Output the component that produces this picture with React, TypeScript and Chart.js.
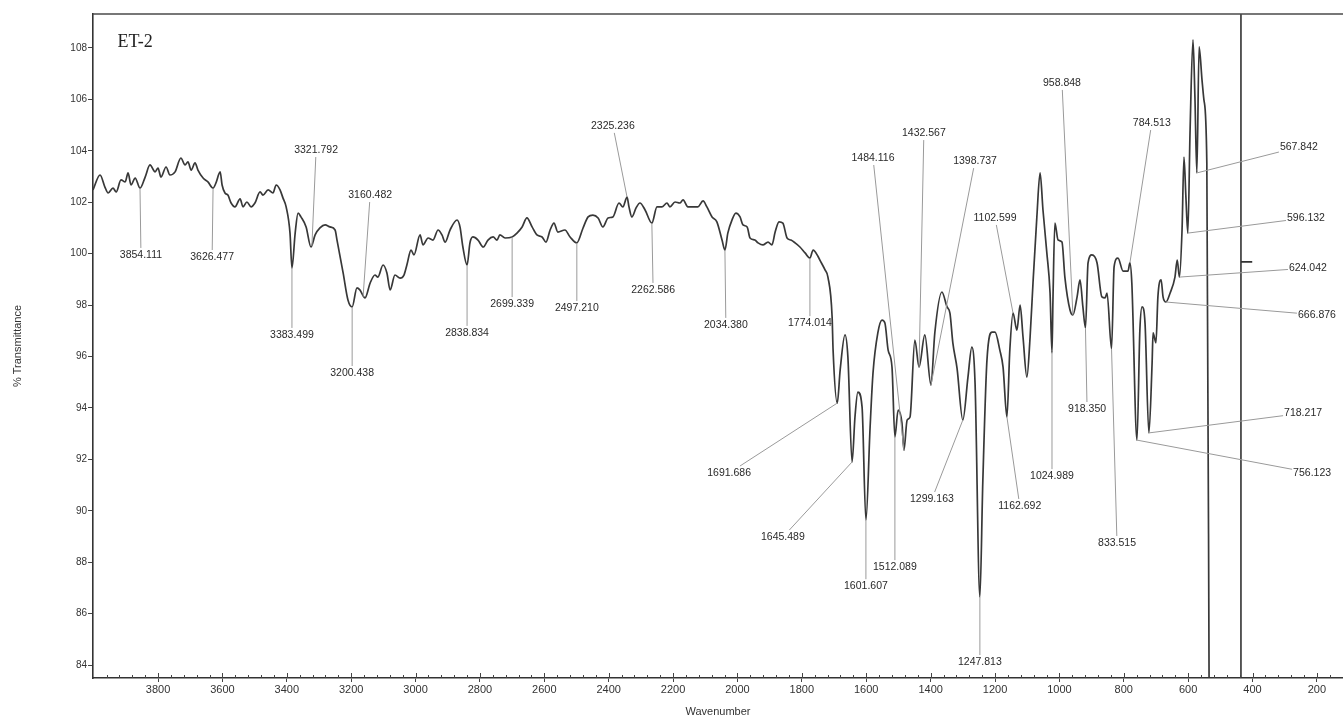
import React, { useEffect, useRef } from 'react';
import { Chart, registerables } from 'chart.js';

Chart.register(...registerables);

const FONT = '"Liberation Sans", Arial, Helvetica, sans-serif';

// Spectrum: wavenumber (cm-1) and % transmittance
const wavenumbers = [
  4002, 3980, 3965, 3955, 3940, 3930, 3915, 3902, 3893, 3884,
  3871, 3856, 3840, 3825, 3809, 3800, 3791, 3775, 3763, 3747,
  3729, 3716, 3707, 3697, 3685, 3676, 3660, 3645, 3629, 3620,
  3607, 3601, 3592, 3583, 3573, 3561, 3545, 3536, 3524, 3511,
  3499, 3483, 3474, 3458, 3443, 3433, 3421, 3412, 3402, 3390,
  3384, 3374, 3365, 3356, 3340, 3325, 3312, 3297, 3281, 3266,
  3250, 3244, 3225, 3210, 3197, 3182, 3173, 3157, 3141, 3126,
  3117, 3101, 3089, 3079, 3064, 3048, 3036, 3027, 3014, 3005,
  2986, 2977, 2961, 2946, 2930, 2918, 2908, 2893, 2871, 2862,
  2853, 2840, 2831, 2822, 2806, 2790, 2775, 2759, 2747, 2738,
  2722, 2700, 2685, 2669, 2654, 2638, 2623, 2607, 2595, 2582,
  2570, 2558, 2536, 2520, 2499, 2480, 2464, 2449, 2433, 2418,
  2402, 2387, 2368, 2356, 2343, 2337, 2328, 2315, 2303, 2287,
  2266, 2250, 2235, 2219, 2210, 2194, 2179, 2169, 2154, 2138,
  2123, 2107, 2095, 2079, 2064, 2048, 2039, 2030, 2017, 2005,
  1992, 1983, 1970, 1961, 1946, 1936, 1921, 1905, 1893, 1883,
  1871, 1859, 1846, 1834, 1821, 1806, 1790, 1775, 1765, 1750,
  1744, 1728, 1719, 1706, 1703, 1690, 1681, 1666, 1657, 1644,
  1635, 1626, 1613, 1601, 1588, 1579, 1564, 1551, 1542, 1532,
  1520, 1511, 1501, 1489, 1483, 1473, 1464, 1449, 1436, 1418,
  1399, 1387, 1365, 1349, 1340, 1331, 1318, 1300, 1284, 1272,
  1262, 1247, 1238, 1225, 1209, 1200, 1185, 1175, 1163, 1154,
  1144, 1132, 1122, 1113, 1101, 1091, 1082, 1070, 1060, 1051,
  1039, 1029, 1023, 1020, 1014, 1004, 992, 983, 967, 958,
  945, 936, 927, 919, 911, 899, 883, 868, 858, 852,
  838, 830, 818, 802, 787, 781, 775, 759, 750, 743,
  734, 722, 712, 709, 700, 694, 684, 678, 669, 656,
  641, 634, 627, 619, 613, 607, 601, 594, 585, 579,
  573, 566, 557, 551, 542, 534,
];

const transmittance = [
  102.48, 103.06, 102.59, 102.36, 102.55, 102.40, 102.87, 102.79, 103.14, 102.67,
  102.94, 102.55, 102.98, 103.45, 103.18, 103.33, 102.98, 103.37, 103.06, 103.18,
  103.72, 103.45, 103.57, 103.25, 103.53, 103.25, 102.94, 102.79, 102.55, 102.75,
  103.18, 102.67, 102.36, 102.28, 101.97, 101.82, 102.13, 101.82, 102.01, 101.82,
  101.97, 102.40, 102.28, 102.48, 102.36, 102.67, 102.48, 102.17, 101.82, 100.80,
  99.44, 100.80, 101.58, 101.43, 101.04, 100.26, 100.73, 101.00, 101.12, 101.04,
  100.92, 100.53, 99.25, 98.20, 97.93, 98.67, 98.59, 98.28, 98.86, 99.17,
  99.09, 99.56, 99.25, 98.59, 99.17, 99.05, 99.17, 99.56, 100.14, 99.95,
  100.73, 100.34, 100.61, 100.53, 100.92, 100.73, 100.45, 100.92, 101.31, 101.04,
  100.26, 99.56, 100.42, 100.65, 100.53, 100.26, 100.53, 100.65, 100.53, 100.73,
  100.61, 100.65, 100.80, 101.04, 101.39, 101.04, 100.73, 100.65, 100.45, 100.92,
  101.19, 100.84, 100.92, 100.65, 100.42, 100.99, 101.43, 101.50, 101.39, 101.04,
  101.39, 101.43, 101.97, 101.82, 102.20, 101.82, 101.43, 101.78, 101.97, 101.70,
  101.19, 101.82, 101.82, 101.97, 101.82, 102.01, 101.97, 102.09, 101.82, 101.82,
  101.82, 102.05, 101.82, 101.43, 101.24, 100.53, 100.14, 100.80, 101.31, 101.58,
  101.43, 101.12, 101.04, 100.61, 100.53, 100.42, 100.34, 100.45, 100.34, 100.84,
  101.24, 101.19, 100.61, 100.53, 100.42, 100.26, 100.03, 99.83, 100.14, 99.90,
  99.75, 99.37, 99.09, 97.54, 96.25, 94.19, 95.48, 96.84, 95.98, 91.90,
  93.65, 94.62, 94.04, 89.64, 93.26, 95.36, 96.92, 97.42, 97.30, 96.25,
  95.59, 92.87, 93.92, 93.41, 92.36, 93.53, 93.65, 96.64, 95.59, 96.84,
  94.89, 96.92, 98.51, 97.93, 97.69, 96.53, 95.55, 93.53, 95.20, 96.37,
  94.97, 86.65, 91.08, 95.86, 96.95, 96.95, 96.25, 95.59, 93.65, 96.25,
  97.69, 97.03, 98.00, 96.76, 95.20, 96.76, 98.86, 101.43, 103.14, 101.70,
  100.03, 98.47, 96.14, 98.20, 101.19, 100.53, 100.45, 99.09, 97.81, 97.62,
  98.32, 98.98, 97.93, 97.11, 99.64, 99.95, 99.64, 98.32, 98.28, 98.47,
  96.30, 99.50, 99.83, 99.32, 99.32, 99.64, 98.86, 92.75, 97.03, 97.93,
  97.30, 93.03, 95.75, 96.92, 96.53, 98.32, 98.98, 98.32, 98.12, 98.47,
  99.09, 99.75, 99.09, 100.92, 103.76, 102.20, 100.80, 104.81, 108.31, 106.09,
  103.14, 108.04, 106.76, 105.98, 103.53, 80,
];

// Peak annotations
const peakLabels = [
  '3854.111', '3626.477', '3321.792', '3160.482', '3383.499', '3200.438', '2838.834', '2699.339', '2497.210', '2325.236',
  '2262.586', '2034.380', '1774.014', '1484.116', '1432.567', '1398.737', '1102.599', '958.848', '784.513', '567.842',
  '596.132', '624.042', '666.876', '718.217', '756.123', '1691.686', '1645.489', '1601.607', '1512.089', '1299.163',
  '1247.813', '1162.692', '1024.989', '918.350', '833.515',
];
// where each leader line meets the curve
const peakX = [
  3856, 3629, 3322, 3163, 3384, 3197, 2840, 2700, 2499, 2343,
  2266, 2039, 1775, 1483, 1436, 1399, 1144, 958, 781, 573,
  601, 627, 669, 722, 759, 1690, 1644, 1601, 1511, 1300,
  1247, 1163, 1023, 919, 838,
];
const peakT = [
  102.55, 102.55, 100.3, 98.32, 99.44, 97.93, 99.56, 100.65, 100.42, 102.2,
  101.19, 100.14, 99.83, 92.36, 95.59, 94.89, 97.69, 97.62, 99.64, 103.14,
  100.8, 99.09, 98.12, 93.03, 92.75, 94.19, 91.9, 89.64, 92.87, 93.53,
  86.65, 93.65, 96.14, 97.11, 96.3,
];
// where each label text sits (data units)
const labelX = [
  3853, 3632, 3309, 3141, 3384, 3197, 2840, 2700, 2499, 2387,
  2262, 2036, 1775, 1579, 1421, 1262, 1200, 992, 713, 256,
  234, 228, 200, 243, 215, 2026, 1859, 1601, 1511, 1396,
  1247, 1123, 1023, 914, 821,
];
const labelT = [
  99.95, 99.87, 104.03, 102.28, 96.84, 95.36, 96.92, 98.04, 97.89, 104.97,
  98.59, 97.23, 97.30, 103.72, 104.69, 103.60, 101.39, 106.64, 105.08, 104.15,
  101.39, 99.44, 97.62, 93.80, 91.47, 91.47, 88.98, 87.07, 87.81, 90.46,
  84.12, 90.19, 91.35, 93.96, 88.75,
];

// separate frame marker line near 436 cm-1
const markerX = [436, 436, 401, 436, 436];
const markerT = [110, 99.68, 99.68, 99.68, 83];

const sampleName = 'ET-2';
const sampleNameAt = [3871, 108.23];

const xTickValues = [3800, 3600, 3400, 3200, 3000, 2800, 2600, 2400, 2200, 2000, 1800, 1600, 1400, 1200, 1000, 800, 600, 400, 200];
const yTickValues = [84, 86, 88, 90, 92, 94, 96, 98, 100, 102, 104, 106, 108];

const X_MIN = 119;
const X_MAX = 4002;
const Y_MIN = 83.5;
const Y_MAX = 109.32;

const decorPlugin = {
  id: 'decor',
  afterDatasetsDraw(chart: any) {
    const { ctx, chartArea } = chart;
    const xs = chart.scales.x;
    const ys = chart.scales.y;
    ctx.save();

    // top frame line
    ctx.strokeStyle = '#4a4a4a';
    ctx.lineWidth = 1.5;
    ctx.beginPath();
    ctx.moveTo(chartArea.left, chartArea.top);
    ctx.lineTo(chartArea.right, chartArea.top);
    ctx.stroke();

    // inner tick marks on x axis (major + minor)
    const b = chartArea.bottom;
    ctx.strokeStyle = '#444';
    ctx.lineWidth = 1;
    for (let v = 3960; v >= 160; v -= 40) {
      const px = Math.round(xs.getPixelForValue(v)) + 0.5;
      const major = v % 200 === 0;
      ctx.beginPath();
      ctx.moveTo(px, b - (major ? 5 : 3));
      ctx.lineTo(px, b);
      ctx.stroke();
    }

    // peak labels with leader lines
    ctx.font = `10.5px ${FONT}`;
    ctx.textAlign = 'center';
    ctx.textBaseline = 'middle';
    for (let i = 0; i < peakLabels.length; i++) {
      const text = peakLabels[i];
      const tx = xs.getPixelForValue(peakX[i]);
      const ty = ys.getPixelForValue(peakT[i]);
      const lx = xs.getPixelForValue(labelX[i]);
      const ly = ys.getPixelForValue(labelT[i]);
      const w = ctx.measureText(text).width;
      const hw = w / 2 + 1;
      const hh = 7;
      const dx = tx - lx;
      const dy = ty - ly;
      let t = Infinity;
      if (Math.abs(dx) > 0.01) t = Math.min(t, hw / Math.abs(dx));
      if (Math.abs(dy) > 0.01) t = Math.min(t, hh / Math.abs(dy));
      if (t < 1) {
        ctx.strokeStyle = '#9a9a9a';
        ctx.lineWidth = 1;
        ctx.beginPath();
        ctx.moveTo(lx + dx * t, ly + dy * t);
        ctx.lineTo(tx, ty);
        ctx.stroke();
      }
      ctx.fillStyle = '#2a2a2a';
      ctx.fillText(text, lx, ly);
    }

    // sample name
    ctx.font = `18px "Liberation Serif", "Times New Roman", serif`;
    ctx.fillStyle = '#222';
    ctx.fillText(sampleName, xs.getPixelForValue(sampleNameAt[0]), ys.getPixelForValue(sampleNameAt[1]));

    ctx.restore();
  },
};

export default function App() {
  const ref = useRef<HTMLCanvasElement>(null);

  useEffect(() => {
    const spectrum = wavenumbers.map((w, i) => ({ x: w, y: transmittance[i] }));
    const marker = markerX.map((w, i) => ({ x: w, y: markerT[i] }));
    const chart = new Chart(ref.current as HTMLCanvasElement, {
      type: 'line',
      data: {
        datasets: [
          {
            data: spectrum,
            borderColor: '#383838',
            borderWidth: 1.7,
            pointRadius: 0,
            fill: false,
            cubicInterpolationMode: 'monotone',
          },
          {
            data: marker,
            borderColor: '#333',
            borderWidth: 1.6,
            pointRadius: 0,
            fill: false,
            tension: 0,
          },
        ],
      },
      options: {
        responsive: false,
        animation: false,
        layout: { padding: { top: 14, left: 0, right: 0, bottom: 0 } },
        plugins: {
          legend: { display: false },
          tooltip: { enabled: false },
        },
        scales: {
          x: {
            type: 'linear',
            reverse: true,
            min: X_MIN,
            max: X_MAX,
            afterBuildTicks: (s: any) => {
              s.ticks = xTickValues.map((v) => ({ value: v }));
            },
            afterFit: (s: any) => {
              s.height = 39;
            },
            grid: { display: true, drawOnChartArea: false, drawTicks: true, tickLength: 4, color: '#444', lineWidth: 1 },
            border: { display: true, color: '#333', width: 1.6 },
            ticks: {
              padding: 1,
              autoSkip: false,
              maxRotation: 0,
              color: '#333',
              font: { family: FONT, size: 11 },
              callback: (v: any) => String(v),
            },
            title: {
              display: true,
              text: 'Wavenumber',
              color: '#333',
              font: { family: FONT, size: 11, lineHeight: 1 },
              padding: { top: 0, bottom: 0 },
            },
          },
          y: {
            type: 'linear',
            min: Y_MIN,
            max: Y_MAX,
            afterBuildTicks: (s: any) => {
              s.ticks = yTickValues.map((v) => ({ value: v }));
            },
            afterFit: (s: any) => {
              s.width = 93;
            },
            grid: { display: true, drawOnChartArea: false, drawTicks: true, tickLength: 5, color: '#444', lineWidth: 1 },
            border: { display: true, color: '#333', width: 1.6 },
            ticks: {
              padding: 1,
              color: '#333',
              font: { family: FONT, size: 10 },
              callback: (v: any) => String(v),
            },
            title: {
              display: true,
              text: '% Transmittance',
              color: '#333',
              font: { family: FONT, size: 11 },
              padding: { top: 11, bottom: 0 },
            },
          },
        },
      },
      plugins: [decorPlugin],
    } as any);
    return () => chart.destroy();
  }, []);

  return (
    <div style={{ position: 'fixed', left: 0, top: 0, width: 1343, height: 717, background: '#ffffff' }}>
      <canvas ref={ref} width={1343} height={717} style={{ display: 'block' }} />
    </div>
  );
}
